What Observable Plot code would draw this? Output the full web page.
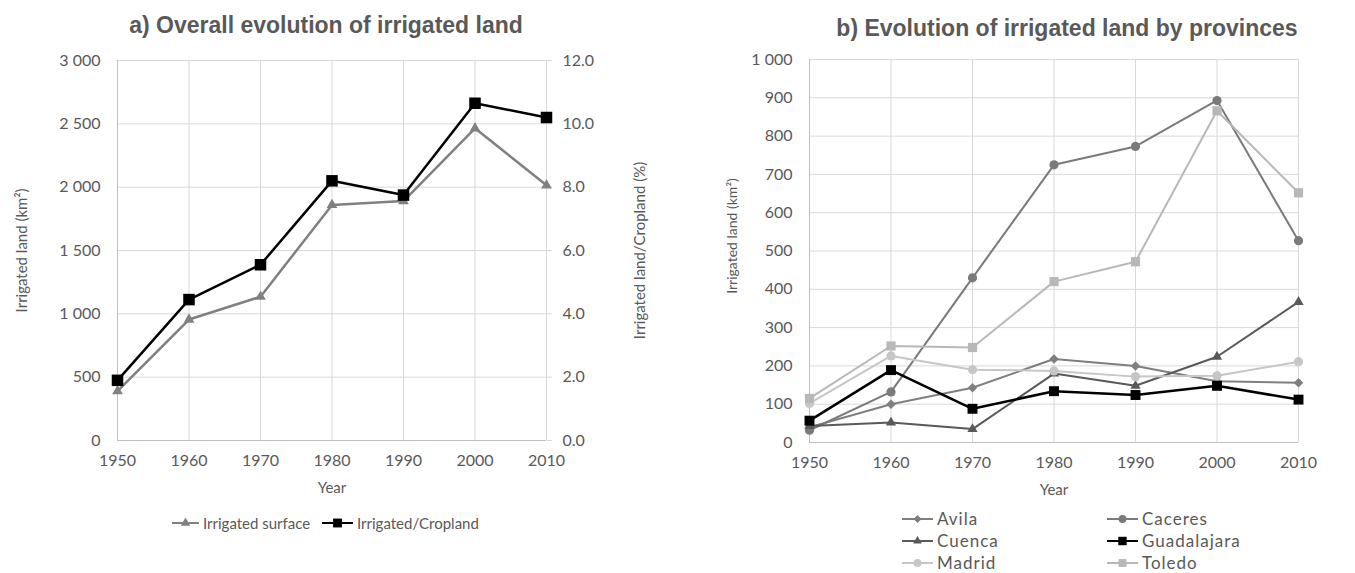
<!DOCTYPE html>
<html><head><meta charset="utf-8">
<script src="https://cdn.jsdelivr.net/npm/d3@7"></script>
<script src="https://cdn.jsdelivr.net/npm/@observablehq/plot@0.6"></script>
<style>
body{margin:0;background:#fff;}
#wrap{position:relative;width:1355px;height:573px;overflow:hidden;font-family:Lato,sans-serif;color:#595959;}
.title{position:absolute;font-family:"Liberation Sans",Arial,sans-serif;font-weight:bold;font-size:23px;line-height:26px;color:#595959;white-space:nowrap;transform:translateX(-50%);}
.chart{position:absolute;top:0;}
.leg{position:absolute;display:flex;align-items:center;white-space:nowrap;}
.leg svg{display:block;}
</style></head><body><div id="wrap"></div>
<script>
// ---------- data ----------
const years = [1950, 1960, 1970, 1980, 1990, 2000, 2010];
// a) overall
const irrigatedSurface = [390, 955, 1135, 1860, 1890, 2465, 2015];      // km2 (left axis)
const irrigatedCropland = [1.9, 4.45, 5.55, 8.2, 7.75, 10.65, 10.2];    // % (right axis)
const leftTicks = [0, 500, 1000, 1500, 2000, 2500, 3000];
const rightTicks = [0, 2, 4, 6, 8, 10, 12];
// b) provinces (km2)
const provinces = ["Avila", "Caceres", "Cuenca", "Guadalajara", "Madrid", "Toledo"];
const avila = [40, 100, 143, 218, 200, 160, 156];
const caceres = [32, 132, 430, 725, 773, 893, 527];
const cuenca = [43, 52, 35, 180, 148, 224, 367];
const guadalajara = [57, 189, 88, 134, 124, 148, 112];
const madrid = [102, 226, 190, 187, 172, 174, 211];
const toledo = [115, 252, 248, 420, 472, 866, 652];
const provTicks = [0, 100, 200, 300, 400, 500, 600, 700, 800, 900, 1000];

// ---------- helpers ----------
const fmtK = d3.formatLocale({decimal: ".", thousands: " ", grouping: [3], currency: ["", ""]}).format(",");
const wrap = document.getElementById("wrap");
const GRID = "#d9d9d9", AXIS = "#bfbfbf", TXT = "#595959";
const FS = 16;

const diamondSq = {draw(ctx, size) { const r = Math.sqrt(size / 2); ctx.moveTo(0, -r); ctx.lineTo(r, 0); ctx.lineTo(0, r); ctx.lineTo(-r, 0); ctx.closePath(); }};

function addTitle(text, cx, top) {
  const d = document.createElement("div");
  d.className = "title"; d.textContent = text;
  d.style.left = cx + "px"; d.style.top = top + "px";
  wrap.appendChild(d);
}

// ---------- a) overall ----------
const RATIO = 3000 / 12;
const leftData = years.map((y, i) => ({year: y, surface: irrigatedSurface[i], ratio: irrigatedCropland[i]}));
const leftPlot = Plot.plot({
  width: 660, height: 500,
  marginTop: 60, marginBottom: 60, marginLeft: 117, marginRight: 114,
  style: {fontFamily: "Lato, sans-serif", fontSize: FS + "px", color: TXT, background: "transparent", overflow: "visible"},
  x: {domain: [1950, 2010]},
  y: {domain: [0, 3000]},
  marks: [
    Plot.gridX(years, {stroke: GRID, strokeOpacity: 1}),
    Plot.gridY(leftTicks, {stroke: GRID, strokeOpacity: 1}),
    Plot.ruleX([1950], {stroke: AXIS}),
    Plot.ruleY([0], {stroke: AXIS}),
    Plot.axisX({ticks: years, tickFormat: d => String(d), tickSize: 0, tickPadding: 14, label: null, fontSize: FS}),
    Plot.axisY({ticks: leftTicks, tickFormat: fmtK, tickSize: 0, tickPadding: 17, label: null, fontSize: FS}),
    Plot.axisY({anchor: "right", ticks: rightTicks.map(v => v * RATIO), tickFormat: d => (d / RATIO).toFixed(1), tickSize: 5, tickPadding: 11, stroke: GRID, label: null, fontSize: FS}),
    Plot.text(["Irrigated land (km²)"], {frameAnchor: "left", textAnchor: "middle", dx: -95, rotate: -90, fontSize: 15, fill: TXT}),
    Plot.text(["Irrigated land/Cropland (%)"], {frameAnchor: "right", textAnchor: "middle", dx: 94, rotate: -90, fontSize: 15, fill: TXT}),
    Plot.text(["Year"], {frameAnchor: "bottom", dy: 52, fontSize: 15, fill: TXT}),
    Plot.line(leftData, {x: "year", y: "surface", stroke: "#808080", strokeWidth: 2.5}),
    Plot.dot(leftData, {x: "year", y: "surface", symbol: "triangle", r: 4, fill: "#808080", stroke: "none"}),
    Plot.line(leftData, {x: "year", y: d => d.ratio * RATIO, stroke: "#000", strokeWidth: 2.5}),
    Plot.dot(leftData, {x: "year", y: d => d.ratio * RATIO, symbol: "square", r: 6.5, fill: "#000", stroke: "none"})
  ]
});
leftPlot.classList.add("chart");
leftPlot.style.left = "0px";
wrap.appendChild(leftPlot);

// ---------- b) provinces ----------
const series = [
  {name: "Avila", values: avila, color: "#7f7f7f", symbol: diamondSq, r: 3.8, w: 2},
  {name: "Caceres", values: caceres, color: "#7a7a7a", symbol: "circle", r: 4.6, w: 2},
  {name: "Cuenca", values: cuenca, color: "#595959", symbol: "triangle", r: 3.8, w: 2},
  {name: "Guadalajara", values: guadalajara, color: "#000000", symbol: "square", r: 5.6, w: 2.5},
  {name: "Madrid", values: madrid, color: "#c6c6c6", symbol: "circle", r: 4.6, w: 2},
  {name: "Toledo", values: toledo, color: "#b8b8b8", symbol: "square", r: 5.2, w: 2}
];
const provMarks = [];
for (const s of series) {
  const data = years.map((y, i) => ({year: y, v: s.values[i]}));
  provMarks.push(Plot.line(data, {x: "year", y: "v", stroke: s.color, strokeWidth: s.w}));
  provMarks.push(Plot.dot(data, {x: "year", y: "v", symbol: s.symbol, r: s.r, fill: s.color, stroke: "none"}));
}
const rightPlot = Plot.plot({
  width: 675, height: 500,
  marginTop: 59, marginBottom: 58, marginLeft: 129, marginRight: 57,
  style: {fontFamily: "Lato, sans-serif", fontSize: FS + "px", color: TXT, background: "transparent", overflow: "visible"},
  x: {domain: [1950, 2010]},
  y: {domain: [0, 1000]},
  marks: [
    Plot.gridX(years, {stroke: GRID, strokeOpacity: 1}),
    Plot.gridY(provTicks, {stroke: GRID, strokeOpacity: 1}),
    Plot.ruleX([1950], {stroke: AXIS}),
    Plot.ruleY([0], {stroke: AXIS}),
    Plot.axisX({ticks: years, tickFormat: d => String(d), tickSize: 0, tickPadding: 14, label: null, fontSize: FS}),
    Plot.axisY({ticks: provTicks, tickFormat: fmtK, tickSize: 0, tickPadding: 17, label: null, fontSize: FS}),
    Plot.text(["Irrigated land (km²)"], {frameAnchor: "left", textAnchor: "middle", dx: -77, dy: -15, rotate: -90, fontSize: 14, fill: TXT}),
    Plot.text(["Year"], {frameAnchor: "bottom", dy: 52, fontSize: 15, fill: TXT}),
    ...provMarks
  ]
});
rightPlot.classList.add("chart");
rightPlot.style.left = "680px";
wrap.appendChild(rightPlot);

// ---------- titles ----------
addTitle("a) Overall evolution of irrigated land", 326, 12);
addTitle("b) Evolution of irrigated land by provinces", 1067, 15);

// ---------- legends ----------
function symPath(sym, r) {
  if (sym === "circle") return `<circle cx="0" cy="0" r="${r}"/>`;
  const type = sym === "triangle" ? d3.symbolTriangle : sym === "square" ? d3.symbolSquare : sym;
  return `<path d="${d3.symbol(type, Math.PI * r * r)()}"/>`;
}
function addLegend(x, cy, w, sym, r, color, lw, label, fontSize, spacing) {
  const h = 16;
  const d = document.createElement("div");
  d.className = "leg";
  d.style.left = x + "px"; d.style.top = (cy - h / 2) + "px";
  d.style.height = h + "px"; d.style.lineHeight = h + "px";
  d.style.fontSize = fontSize + "px"; d.style.letterSpacing = spacing + "px";
  d.innerHTML = `<svg width="${w}" height="${h}"><line x1="0" x2="${w}" y1="${h / 2}" y2="${h / 2}" stroke="${color}" stroke-width="${lw}"/><g transform="translate(${w / 2},${h / 2})" fill="${color}">${symPath(sym, r)}</g></svg><span style="margin-left:4px">${label}</span>`;
  wrap.appendChild(d);
}
addLegend(172, 523, 27, "triangle", 3.5, "#808080", 2, "Irrigated surface", 15, 0);
addLegend(322, 523, 31, "square", 5, "#000", 2, "Irrigated/Cropland", 15, 0);

const legPos = [[902, 519], [1107, 519], [902, 541], [1107, 541], [902, 563], [1107, 563]];
series.forEach((s, i) => {
  addLegend(legPos[i][0], legPos[i][1], 31, s.symbol, s.r * 0.85, s.color, 2, s.name, 17, 1);
});
</script></body></html>
